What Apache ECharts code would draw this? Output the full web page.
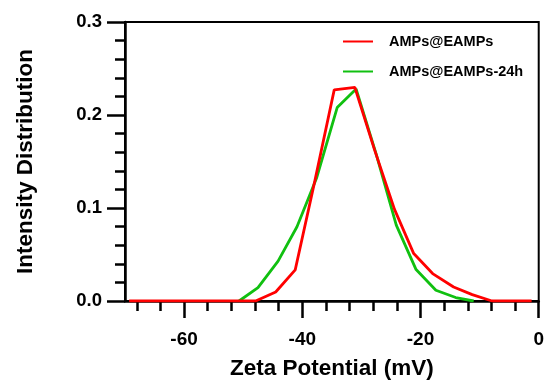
<!DOCTYPE html>
<html>
<head>
<meta charset="utf-8">
<script src="https://cdn.jsdelivr.net/npm/echarts@6/dist/echarts.min.js"></script>
<style>
  html, body { margin: 0; padding: 0; background: #fff; }
  #chart { width: 547px; height: 385px; }
</style>
</head>
<body>
<div id="chart"></div>
<script>
// zeta potential bins (mV) and intensity for each sample
const redX = [-69.3, -47.9, -44.5, -41.2, -37.85, -34.6, -31.1, -27.8, -24.4, -21.15, -17.95, -14.4, -11.25, -7.9, -1.2];
const redY = [0, 0, 0.0097, 0.0335, 0.13, 0.227, 0.2296, 0.163, 0.0985, 0.051, 0.0295, 0.0151, 0.0069, 0, 0];
const greenX = [-50.7, -47.5, -44.1, -40.9, -37.6, -34.1, -30.9, -27.5, -24.1, -20.75, -17.4, -14.05, -11.0];
const greenY = [0, 0.0144, 0.0428, 0.0798, 0.132, 0.208, 0.228, 0.158, 0.0816, 0.0338, 0.0115, 0.0037, 0];
const seriesNames = ['AMPs@EAMPs', 'AMPs@EAMPs-24h'];
const xMajorTicks = [-60, -40, -20, 0];
const yTicks = [0, 0.1, 0.2, 0.3];

const FONT = '"Liberation Sans", Arial, sans-serif';

// minor ticks every 4 mV, skipping the labelled ones
const xMinorTicks = [];
for (let v = -68; v < 0; v += 4) {
  if (xMajorTicks.indexOf(v) < 0) xMinorTicks.push(v);
}

const axisLineStyle = { color: '#000', width: 2.5 };

const chart = echarts.init(document.getElementById('chart'));
chart.setOption({
  animation: false,
  grid: {
    left: 125, right: 5, top: 22, bottom: 84,
    show: true, borderColor: '#000', borderWidth: 2
  },
  legend: {
    data: seriesNames,
    orient: 'vertical',
    left: 337, top: 29,
    itemWidth: 30, itemHeight: 14, itemGap: 15,
    itemStyle: { opacity: 0 }, // line only, no marker
    textStyle: { fontSize: 14.5, fontWeight: 'bold', fontFamily: FONT, color: '#000', padding: [0, 0, 0, 11] }
  },
  xAxis: [
    {
      type: 'value', min: -70, max: 0, position: 'bottom',
      name: 'Zeta Potential (mV)', nameLocation: 'middle', nameGap: 56,
      nameTextStyle: { fontSize: 22.5, fontWeight: 'bold', fontFamily: FONT, color: '#000' },
      axisLine: { show: true, onZero: false, lineStyle: axisLineStyle },
      axisTick: { show: true, customValues: xMajorTicks, length: 17, lineStyle: axisLineStyle },
      axisLabel: { customValues: xMajorTicks, margin: 29, fontSize: 19, fontWeight: 'bold', fontFamily: FONT, color: '#000' },
      splitLine: { show: false }
    },
    {
      type: 'value', min: -70, max: 0, position: 'bottom',
      axisLine: { show: false, onZero: false },
      axisTick: { show: true, customValues: xMinorTicks, length: 10, lineStyle: axisLineStyle },
      axisLabel: { show: false },
      splitLine: { show: false }
    }
  ],
  yAxis: {
    type: 'value', min: 0, max: 0.3, interval: 0.1,
    name: 'Intensity Distribution', nameLocation: 'middle', nameGap: 88,
    nameTextStyle: { fontSize: 22.5, fontWeight: 'bold', fontFamily: FONT, color: '#000' },
    axisLine: { show: true, onZero: false, lineStyle: axisLineStyle },
    axisTick: { show: true, length: 18, lineStyle: axisLineStyle },
    minorTick: { show: true, splitNumber: 5, length: 10, lineStyle: axisLineStyle },
    axisLabel: {
      customValues: yTicks, margin: 23, fontSize: 18.5, fontWeight: 'bold', fontFamily: FONT, color: '#000',
      formatter: v => v.toFixed(1)
    },
    splitLine: { show: false },
    minorSplitLine: { show: false }
  },
  series: [
    {
      name: seriesNames[0], type: 'line', z: 4,
      data: redX.map((x, i) => [x, redY[i]]),
      symbol: 'none', showSymbol: false,
      lineStyle: { color: '#ff0000', width: 2.8 },
      itemStyle: { color: '#ff0000' }
    },
    {
      name: seriesNames[1], type: 'line', z: 3,
      data: greenX.map((x, i) => [x, greenY[i]]),
      symbol: 'none', showSymbol: false,
      lineStyle: { color: '#10c010', width: 2.8 },
      itemStyle: { color: '#10c010' }
    }
  ]
});
</script>
</body>
</html>
